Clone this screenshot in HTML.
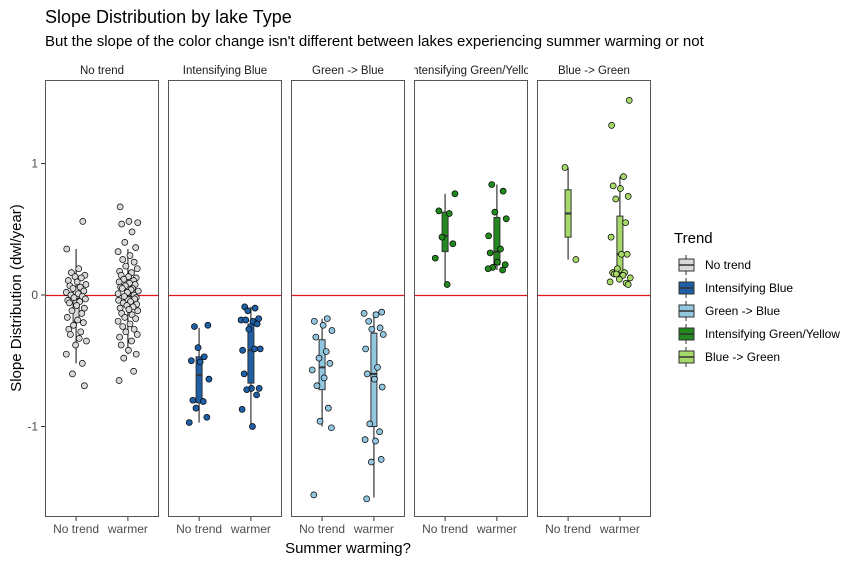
<!DOCTYPE html>
<html><head><meta charset="utf-8"><style>
body{margin:0;background:#fff;}
svg text{font-family:"Liberation Sans",Arial,sans-serif;}
</style></head><body>
<svg id="chart" width="867" height="563" viewBox="0 0 867 563" xmlns="http://www.w3.org/2000/svg">
<text x="45" y="23" font-size="18" fill="#000">Slope Distribution by lake Type</text>
<text x="45" y="46" font-size="15" fill="#000">But the slope of the color change isn't different between lakes experiencing summer warming or not</text>
<text x="348" y="553" font-size="15" text-anchor="middle">Summer warming?</text>
<text transform="translate(21,298) rotate(-90)" font-size="15" text-anchor="middle">Slope Distribution (dwl/year)</text>
<g id="panels"></g>
<g id="legend"></g>
</svg>
<script>
const NS="http://www.w3.org/2000/svg";
const trends=["No trend","Intensifying Blue","Green -> Blue","Intensifying Green/Yellow","Blue -> Green"];
const stripLabels=["No trend","Intensifying Blue","Green -> Blue","ntensifying Green/Yello","Blue -> Green"];
const colors=["#d9d9d9","#1f5fa6","#92c5de","#22891e","#a6d96a"];
const groups=["No trend","warmer"];
const yTicks=[1,0,-1];
const yTickLabels=["1","0","-1"];
// box stats [min,q1,median,q3,max] per trend per group
const boxNoTrend=[[-0.52,-0.20,-0.03,0.06,0.35],[-0.45,-0.09,-0.01,0.09,0.35]];
const boxIntBlue=[[-0.97,-0.82,-0.61,-0.47,-0.25],[-1.0,-0.67,-0.42,-0.22,-0.09]];
const boxGreenBlue=[[-1.0,-0.72,-0.55,-0.34,-0.18],[-1.54,-1.0,-0.60,-0.29,-0.13]];
const boxIntGreen=[[0.08,0.33,0.45,0.63,0.77],[0.19,0.23,0.33,0.59,0.84]];
const boxBlueGreen=[[0.27,0.44,0.62,0.80,0.97],[0.10,0.17,0.31,0.60,0.90]];
const boxes=[boxNoTrend,boxIntBlue,boxGreenBlue,boxIntGreen,boxBlueGreen];
// point values
const ptsNoTrendNo=[0.56,0.35,0.20,0.17,0.15,0.14,0.13,0.11,0.10,0.08,0.07,0.06,0.05,0.03,0.02,0.01,0.0,-0.01,-0.02,-0.03,-0.04,-0.05,-0.06,-0.08,-0.10,-0.12,-0.14,-0.17,-0.19,-0.21,-0.23,-0.26,-0.28,-0.30,-0.33,-0.35,-0.38,-0.45,-0.52,-0.60,-0.69];
const ptsNoTrendW=[0.67,0.56,0.55,0.54,0.48,0.40,0.36,0.33,0.30,0.27,0.25,0.22,0.20,0.18,0.17,0.15,0.14,0.13,0.12,0.11,0.10,0.09,0.08,0.07,0.06,0.05,0.05,0.04,0.03,0.02,0.01,0.0,-0.01,-0.02,-0.03,-0.04,-0.05,-0.06,-0.07,-0.08,-0.09,-0.10,-0.11,-0.12,-0.14,-0.15,-0.17,-0.18,-0.20,-0.22,-0.24,-0.26,-0.28,-0.30,-0.32,-0.35,-0.38,-0.42,-0.45,-0.48,-0.58,-0.65];
const ptsIntBlueNo=[-0.24,-0.23,-0.40,-0.47,-0.50,-0.51,-0.64,-0.80,-0.81,-0.86,-0.93,-0.97];
const ptsIntBlueW=[-0.09,-0.10,-0.12,-0.18,-0.19,-0.20,-0.19,-0.22,-0.26,-0.41,-0.42,-0.41,-0.60,-0.71,-0.71,-0.72,-0.76,-0.87,-1.0];
const ptsGreenBlueNo=[-0.18,-0.20,-0.23,-0.27,-0.32,-0.43,-0.48,-0.52,-0.57,-0.63,-0.69,-0.86,-0.96,-1.01,-1.52];
const ptsGreenBlueW=[-0.13,-0.14,-0.15,-0.20,-0.25,-0.26,-0.30,-0.41,-0.55,-0.60,-0.64,-0.70,-0.98,-1.04,-1.10,-1.11,-1.25,-1.27,-1.55];
const ptsIntGreenNo=[0.77,0.64,0.62,0.44,0.39,0.28,0.08];
const ptsIntGreenW=[0.84,0.79,0.63,0.58,0.45,0.35,0.32,0.25,0.23,0.21,0.19,0.20];
const ptsBlueGreenNo=[0.97,0.27];
const ptsBlueGreenW=[1.48,1.29,0.90,0.83,0.81,0.75,0.73,0.55,0.44,0.31,0.31,0.20,0.17,0.17,0.16,0.15,0.13,0.12,0.10,0.09,0.16,0.08];
const points=[[ptsNoTrendNo,ptsNoTrendW],[ptsIntBlueNo,ptsIntBlueW],[ptsGreenBlueNo,ptsGreenBlueW],[ptsIntGreenNo,ptsIntGreenW],[ptsBlueGreenNo,ptsBlueGreenW]];
const jit=[0.13,-0.18,0.05,-0.09,0.17,-0.02,0.1,-0.15,0.02,0.19,-0.12,0.08,-0.06,0.15,-0.19,0.04,-0.1,0.12,-0.04,0.18,-0.16,0.07,-0.13,0.01,0.16,-0.08,0.11,-0.17,0.03,0.14,-0.05,-0.14,0.09,-0.11,0.06,0.2,-0.01,-0.19,0.12,-0.07,0.16];

const panelTop=80,panelBot=517,panelW=114;
const panelLefts=[45,168,291,414,537];
function y(v){return 295-v*131.5;}
function x(p,g){return panelLefts[p]+panelW*(0.6+g)/2.2;}
function jx(p,g,k){return x(p,g)+jit[k%jit.length]*51.8;}
function mk(tag,attrs,parent){const e=document.createElementNS(NS,tag);for(const k in attrs)e.setAttribute(k,attrs[k]);parent.appendChild(e);return e;}
const P=document.getElementById('panels');
const defs=mk('defs',{},P);
yTicks.forEach((t,i)=>{
  const tl=mk('line',{x1:41,x2:45,y1:y(t),y2:y(t),stroke:'#333'},P);
  
  
  const tx=mk('text',{x:38,y:y(t)+4,'font-size':12,'text-anchor':'end',fill:'#4d4d4d'},P);
  tx.textContent=yTickLabels[i];
  
  
});
trends.forEach((tr,p)=>{
  const L=panelLefts[p];
  const g=mk('g',{},P);
  
  
  const cp=mk('clipPath',{id:'cp'+p},defs);
  mk('rect',{x:L,y:58,width:panelW,height:22},cp);
  const st=mk('text',{x:L+panelW/2,y:74,'font-size':11.5,'text-anchor':'middle',fill:'#1a1a1a','clip-path':'url(#cp'+p+')'},g);
  st.textContent=stripLabels[p];
  
  
  const zl=mk('line',{x1:L,x2:L+panelW,y1:y(0)+0.5,y2:y(0)+0.5,stroke:'#e0141b','stroke-width':1.3},g);
  
  
  groups.forEach((gr,gi)=>{
    const b=boxes[p][gi],cx=x(p,gi);
    const wh=mk('line',{x1:cx,x2:cx,y1:y(b[4]),y2:y(b[0]),stroke:'#333','stroke-width':1.2},g);
    
    
    const bx=mk('rect',{x:cx-3,y:y(b[3]),width:6,height:y(b[1])-y(b[3]),fill:colors[p],stroke:'#333','stroke-width':1},g);
    
    
    const md=mk('line',{x1:cx-3,x2:cx+3,y1:y(b[2]),y2:y(b[2]),stroke:'#333','stroke-width':2},g);
    
    
    points[p][gi].forEach((v,k)=>{
      const c=mk('circle',{cx:jx(p,gi,k+gi*7+p*3),cy:y(v),r:3,fill:colors[p],stroke:'#000','stroke-width':0.7},g);
      
      
    });
    const tk=mk('line',{x1:cx,x2:cx,y1:panelBot,y2:panelBot+4,stroke:'#333'},g);
    
    
    const xl=mk('text',{x:cx,y:533,'font-size':12,'text-anchor':'middle',fill:'#4d4d4d'},g);
    xl.textContent=gr;
    
    
  });
  const fr=mk('rect',{x:L+0.5,y:panelTop+0.5,width:panelW-1,height:panelBot-panelTop-1,fill:'none',stroke:'#555','stroke-width':1},g);
  
  
});
const LG=document.getElementById('legend');
const lt=mk('text',{x:674,y:243,'font-size':15},LG);
lt.textContent='Trend';


trends.forEach((tr,i)=>{
  const cy=265+i*23;
  const eg=mk('g',{},LG);
  
  
  mk('line',{x1:686,x2:686,y1:cy-10,y2:cy+10,stroke:'#333'},eg);
  mk('rect',{x:679,y:cy-6,width:15,height:12,fill:colors[i],stroke:'#333'},eg);
  mk('line',{x1:679,x2:694,y1:cy,y2:cy,stroke:'#333','stroke-width':1.5},eg);
  const t=mk('text',{x:705,y:cy+4,'font-size':12},eg);
  t.textContent=tr;
});
</script>
</body></html>
